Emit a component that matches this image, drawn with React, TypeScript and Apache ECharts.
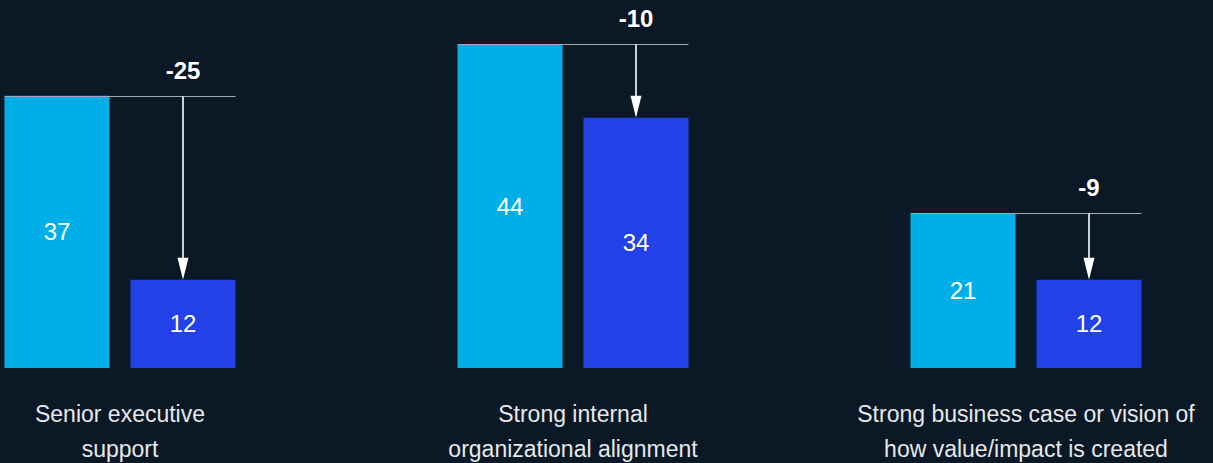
import React, { useEffect, useRef } from "react";
import * as echarts from "echarts";

const categories = [
  "Senior executive\nsupport",
  "Strong internal\norganizational alignment",
  "Strong business case or vision of\nhow value/impact is created",
];
const beforeValues = [37, 44, 21];
const afterValues = [12, 34, 12];

const BG = "#0b1825";
const LIGHT = "#00aee8";
const DARK = "#2241e6";
const FONT = "'Liberation Sans', Arial, sans-serif";
const BAR_W = 105;
const GAP = 21;

export default function App() {
  const ref = useRef<HTMLDivElement>(null);
  useEffect(() => {
    if (!ref.current) return;
    const chart = echarts.init(ref.current, null, { renderer: "svg" });
    const annot = categories.map((_, i) => [i, beforeValues[i], afterValues[i]]);
    chart.setOption({
      animation: false,
      backgroundColor: BG,
      grid: {
        left: -106.5,
        width: 1359,
        top: 0,
        height: 368,
        containLabel: false,
        outerBoundsMode: "none",
      },
      xAxis: {
        type: "category",
        data: categories,
        axisLine: { show: false },
        axisTick: { show: false },
        axisLabel: {
          interval: 0,
          color: "#e6e8eb",
          fontSize: 23,
          lineHeight: 35,
          margin: 28,
          fontFamily: FONT,
        },
      },
      yAxis: { type: "value", min: 0, max: 50, show: false, splitLine: { show: false } },
      series: [
        {
          type: "bar",
          data: beforeValues,
          barWidth: BAR_W,
          barGap: (GAP / BAR_W) * 100 + "%",
          itemStyle: { color: LIGHT },
          label: { show: true, position: "inside", color: "#fff", fontSize: 24, fontFamily: FONT },
          z: 2,
        },
        {
          type: "bar",
          data: afterValues,
          barWidth: BAR_W,
          itemStyle: { color: DARK },
          label: { show: true, position: "inside", color: "#fff", fontSize: 24, fontFamily: FONT },
          z: 2,
        },
        {
          type: "custom",
          data: annot,
          encode: { x: 0, y: [1, 2] },
          z: 5,
          renderItem: (params: any, api: any) => {
            const idx = api.value(0);
            const v1 = api.value(1);
            const v2 = api.value(2);
            const p1 = api.coord([idx, v1]);
            const p2 = api.coord([idx, v2]);
            const cx = p1[0];
            const left = cx - BAR_W - GAP / 2;
            const right = cx + BAR_W + GAP / 2;
            const ax = cx + GAP / 2 + BAR_W / 2;
            const y1 = Math.round(p1[1]) + 0.5;
            const headH = 22;
            return {
              type: "group",
              children: [
                {
                  type: "line",
                  shape: { x1: left, y1, x2: right, y2: y1 },
                  style: { stroke: "#a3a8ae", lineWidth: 1 },
                },
                {
                  type: "line",
                  shape: { x1: ax, y1, x2: ax, y2: p2[1] - headH + 2 },
                  style: { stroke: "#ffffff", lineWidth: 1.6 },
                },
                {
                  type: "polygon",
                  shape: {
                    points: [
                      [ax - 5.5, p2[1] - headH],
                      [ax + 5.5, p2[1] - headH],
                      [ax, p2[1]],
                    ],
                  },
                  style: { fill: "#ffffff" },
                },
                {
                  type: "text",
                  x: ax,
                  y: y1 - 14,
                  style: {
                    text: String(v2 - v1),
                    fill: "#ffffff",
                    font: `bold 24px ${FONT}`,
                    align: "center",
                    verticalAlign: "bottom",
                  },
                },
              ],
            };
          },
        },
      ],
    });
    return () => chart.dispose();
  }, []);
  return (
    <div
      ref={ref}
      style={{ position: "absolute", left: 0, top: 0, width: 1213, height: 463, background: BG }}
    />
  );
}
